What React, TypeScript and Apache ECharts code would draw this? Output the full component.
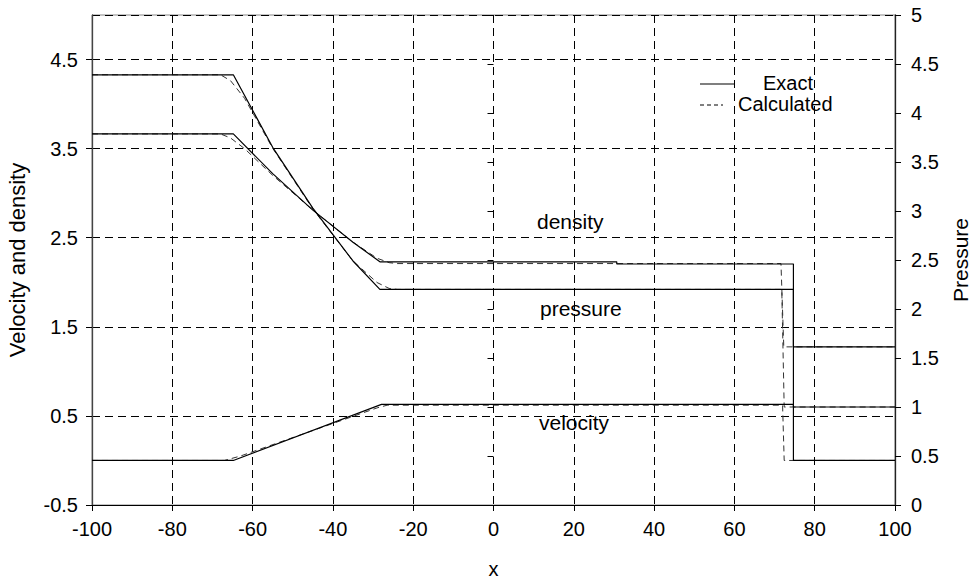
import React, { useEffect, useRef } from "react";
import * as echarts from "echarts";

// x positions / values
const densityExactX = [-100, -64.8, -55, -45, -35, -28.3, 30.7, 30.7, 74.7, 74.7, 100];
const densityExactY = [3.665, 3.665, 3.22, 2.81, 2.45, 2.23, 2.23, 2.205, 2.205, 1.275, 1.275];

const pressureExactX = [-100, -64.8, -55, -45, -35, -28.3, 74.7, 74.7, 100];
const pressureExactY = [4.39, 4.39, 3.65, 3.03, 2.49, 2.2, 2.2, 1.0, 1.0];

const velocityExactX = [-100, -64.8, -27.9, 74.7, 74.7, 100];
const velocityExactY = [0, 0, 0.63, 0.63, 0, 0];

const densityCalcX = [-100, -68, -65.5, -62, -55, -45, -35, -29, -26, -24, 71.6, 72.3, 100];
const densityCalcY = [3.665, 3.665, 3.62, 3.5, 3.2, 2.81, 2.45, 2.27, 2.22, 2.21, 2.21, 1.275, 1.275];

const pressureCalcX = [-100, -68, -65.5, -62, -55, -45, -35, -29, -26, -24, 71.8, 72.4, 100];
const pressureCalcY = [4.39, 4.39, 4.33, 4.15, 3.64, 3.02, 2.49, 2.27, 2.21, 2.2, 2.2, 1.0, 1.0];

const velocityCalcX = [-100, -67, -63, -29, -26.5, 72, 72.4, 100];
const velocityCalcY = [0, 0, 0.05, 0.59, 0.62, 0.62, 0, 0];

const xTicks = { min: -100, max: 100, interval: 20 };
const leftTicks = { min: -0.5, max: 5, interval: 1 };
const rightTicks = { min: 0, max: 5, interval: 0.5 };

const FONT = "'Liberation Sans', Arial, sans-serif";
const FS = 20;

function pairs(xs: number[], ys: number[]) {
  return xs.map((x, i) => [x, ys[i]]);
}

export default function App() {
  const ref = useRef<HTMLDivElement>(null);
  useEffect(() => {
    if (!ref.current) return;
    const chart = echarts.init(ref.current, null, { renderer: "svg" });
    const dashGrid = { show: true, lineStyle: { color: "#000", width: 1, type: [8, 5] } };
    const exactStyle = { color: "#000", width: 1.2, type: "solid" };
    const calcStyle = { color: "#333", width: 1, type: [6, 4] };
    const mk = (name: string, data: number[][], yi: number, style: any, z: number) => ({
      type: "line",
      name,
      data,
      yAxisIndex: yi,
      showSymbol: false,
      symbol: "none",
      lineStyle: style,
      itemStyle: { color: style.color },
      z,
      silent: true,
    });
    chart.setOption({
      animation: false,
      backgroundColor: "#fff",
      textStyle: { fontFamily: FONT, color: "#000" },
      grid: {
        left: 92,
        right: 76,
        top: 15,
        bottom: 74,
        show: true,
        borderColor: "#888",
        borderWidth: 1,
        containLabel: false,
        outerBoundsMode: "none",
      },
      xAxis: {
        type: "value",
        min: xTicks.min,
        max: xTicks.max,
        interval: xTicks.interval,
        name: "x",
        nameLocation: "middle",
        nameGap: 56,
        nameTextStyle: { fontSize: FS, lineHeight: 16, color: "#000", fontFamily: FONT },
        axisLine: { show: true, onZero: false, lineStyle: { color: "#000", width: 1.2 } },
        axisTick: { show: true, inside: false, length: 6, lineStyle: { color: "#000" } },
        axisLabel: { fontSize: FS, color: "#000", margin: 14, fontFamily: FONT },
        splitLine: dashGrid,
      },
      yAxis: [
        {
          type: "value",
          position: "left",
          min: leftTicks.min,
          max: leftTicks.max,
          interval: leftTicks.interval,
          name: "Velocity and density",
          nameLocation: "middle",
          nameGap: 64,
          nameRotate: 90,
          nameTextStyle: { fontSize: 22, color: "#000", fontFamily: FONT },
          axisLine: { show: true, onZero: false, lineStyle: { color: "#444", width: 1.3 } },
          axisTick: { show: true, inside: false, length: 6, lineStyle: { color: "#000" } },
          axisLabel: {
            fontSize: FS,
            color: "#000",
            margin: 14,
            fontFamily: FONT,
            showMaxLabel: false,
            formatter: (v: number) => (Math.abs(v - 5) < 1e-9 ? "" : v.toFixed(1)),
          },
          splitLine: dashGrid,
        },
        {
          type: "value",
          position: "right",
          min: rightTicks.min,
          max: rightTicks.max,
          interval: rightTicks.interval,
          name: "Pressure",
          nameLocation: "middle",
          nameGap: 54,
          nameRotate: 90,
          nameTextStyle: { fontSize: 21, color: "#000", fontFamily: FONT },
          axisLine: { show: true, onZero: false, lineStyle: { color: "#222", width: 1.3 } },
          axisTick: { show: true, inside: false, length: 6, lineStyle: { color: "#000" } },
          axisLabel: { fontSize: FS, color: "#000", margin: 16, fontFamily: FONT },
          splitLine: { show: false },
        },
        {
          type: "value",
          position: "right",
          min: rightTicks.min,
          max: rightTicks.max,
          interval: rightTicks.interval,
          axisLine: { show: false },
          axisTick: { show: true, inside: true, length: 6, lineStyle: { color: "#000" } },
          axisLabel: { show: false },
          splitLine: { show: false },
        },
      ],
      series: [
        mk("Calculated density", pairs(densityCalcX, densityCalcY), 0, calcStyle, 2),
        mk("Calculated pressure", pairs(pressureCalcX, pressureCalcY), 1, calcStyle, 2),
        mk("Calculated velocity", pairs(velocityCalcX, velocityCalcY), 0, calcStyle, 2),
        mk("Exact density", pairs(densityExactX, densityExactY), 0, exactStyle, 3),
        mk("Exact pressure", pairs(pressureExactX, pressureExactY), 1, exactStyle, 3),
        mk("Exact velocity", pairs(velocityExactX, velocityExactY), 0, exactStyle, 3),
      ],
      graphic: [
        { type: "line", shape: { x1: 700, y1: 84, x2: 735, y2: 84 }, style: { stroke: "#000", lineWidth: 1.2 }, z: 10 },
        { type: "text", left: 763, top: 73, style: { text: "Exact", font: `${FS}px ${FONT}`, fill: "#000" }, z: 10 },
        { type: "line", shape: { x1: 700, y1: 105, x2: 723, y2: 105 }, style: { stroke: "#000", lineWidth: 1, lineDash: [4, 3] }, z: 10 },
        { type: "text", left: 738, top: 94, style: { text: "Calculated", font: `${FS}px ${FONT}`, fill: "#000" }, z: 10 },
        { type: "text", left: 537, top: 211, style: { text: "density", font: `21px ${FONT}`, fill: "#000" }, z: 10 },
        { type: "text", left: 540, top: 298, style: { text: "pressure", font: `21px ${FONT}`, fill: "#000" }, z: 10 },
        { type: "text", left: 539, top: 412, style: { text: "velocity", font: `21px ${FONT}`, fill: "#000" }, z: 10 },
      ],
    });
    return () => chart.dispose();
  }, []);
  return <div ref={ref} style={{ width: 971, height: 579, position: "absolute", left: 0, top: 0 }} />;
}
